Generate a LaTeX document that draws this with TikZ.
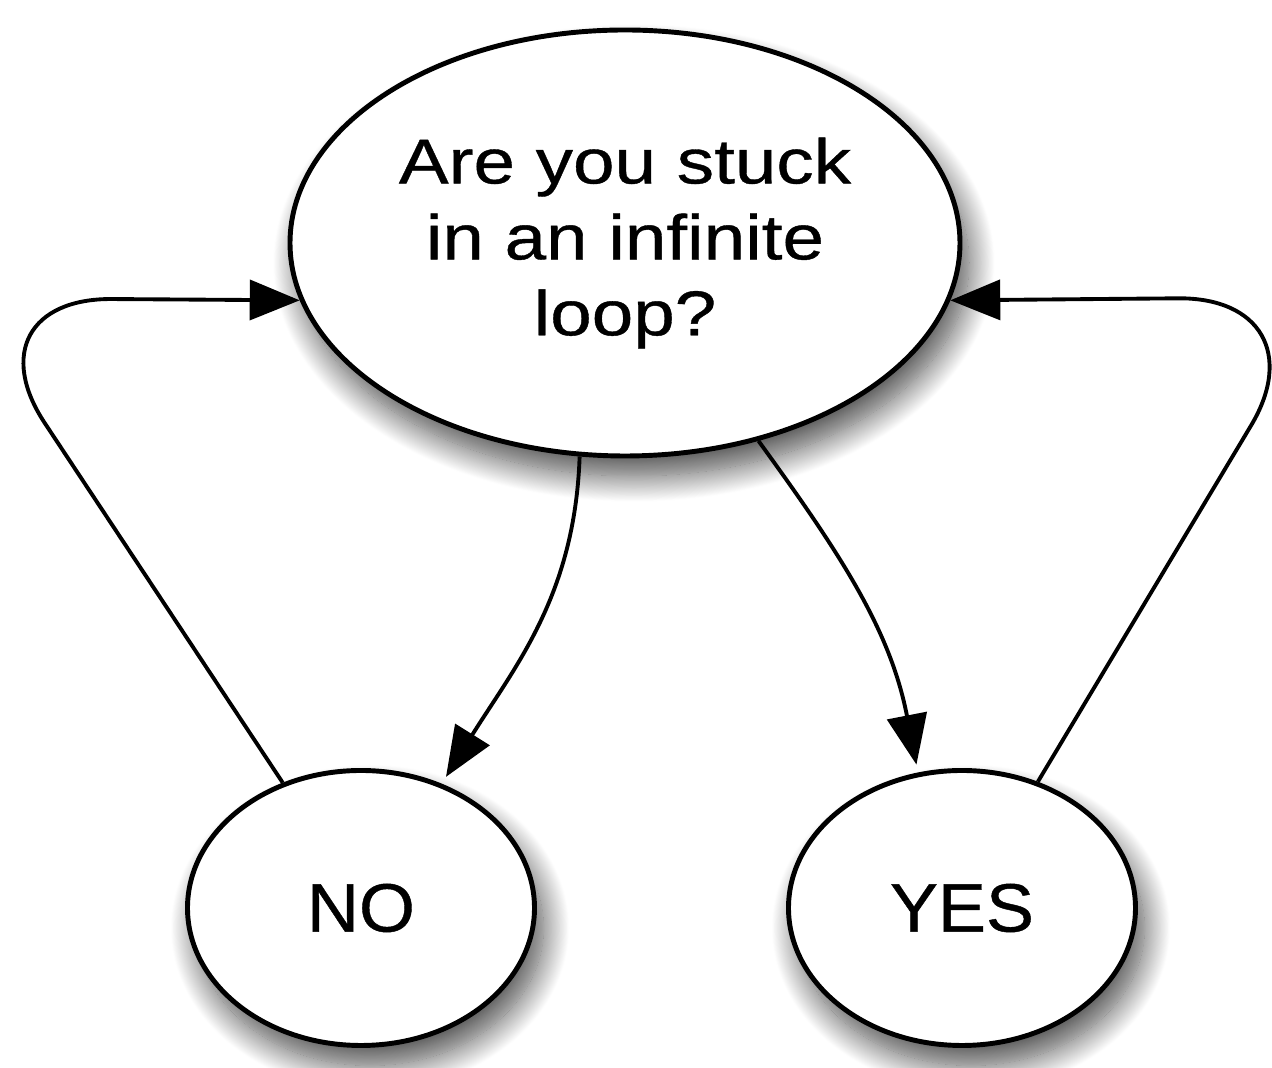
\documentclass[tikz,border=0pt]{standalone}
\usepackage{fontspec}
\setmainfont{Liberation Sans}
\newfontfamily\askfont[FakeStretch=1.18,FakeBold=0.6]{Liberation Sans}
\newfontfamily\answerfont[FakeStretch=1.05,FakeBold=0.6]{Liberation Sans}
\usetikzlibrary{arrows.meta,shapes.geometric,shadows.blur}

\tikzset{
  bubble/.style={ellipse, draw=black, line width=1.4pt, fill=white, inner sep=0pt,
    blur shadow={shadow xshift=0.9mm, shadow yshift=-2mm, shadow blur radius=2.6mm,
      shadow blur steps=30, shadow opacity=70}},
  flow/.style={line width=1.1pt, -{Triangle[length=5mm,width=4mm]}}
}

\begin{document}
\begin{tikzpicture}
		%%%%% START %%%%%
		\useasboundingbox (0, 0) rectangle (12.72, 10.68);
		
		\node[bubble, minimum width=6.7cm, minimum height=4.26cm, align=center,
		  font=\askfont\fontsize{18}{21.6}\selectfont] (loop) at (6.25, 8.25) {Are you stuck\\in an infinite\\loop?};
		\node[bubble, minimum width=3.47cm, minimum height=2.75cm,
		  font=\answerfont\fontsize{19.5}{23}\selectfont] (no) at (3.61, 1.60) {NO};
		\node[bubble, minimum width=3.47cm, minimum height=2.75cm,
		  font=\answerfont\fontsize{19.5}{23}\selectfont] (yes) at (9.62, 1.60) {YES};
		
		\coordinate (backL) at (-0.38, 7.70);
		\coordinate (backR) at (13.28, 7.71);
		
		\draw[flow, shorten >=0.8mm] (loop.258) to[out=-92, in=58] (no.57);
		\draw[flow, shorten >=0.8mm] (loop.304) to[out=-54, in=101] (yes.108);
		
		\draw[flow, rounded corners=1.5cm] (no.122) -- (backL) -- (loop.190);
		\draw[flow, rounded corners=1.5cm] (yes.59) -- (backR) -- (loop.350);
		
		%%%%% END %%%%%
	\end{tikzpicture}
\end{document}
